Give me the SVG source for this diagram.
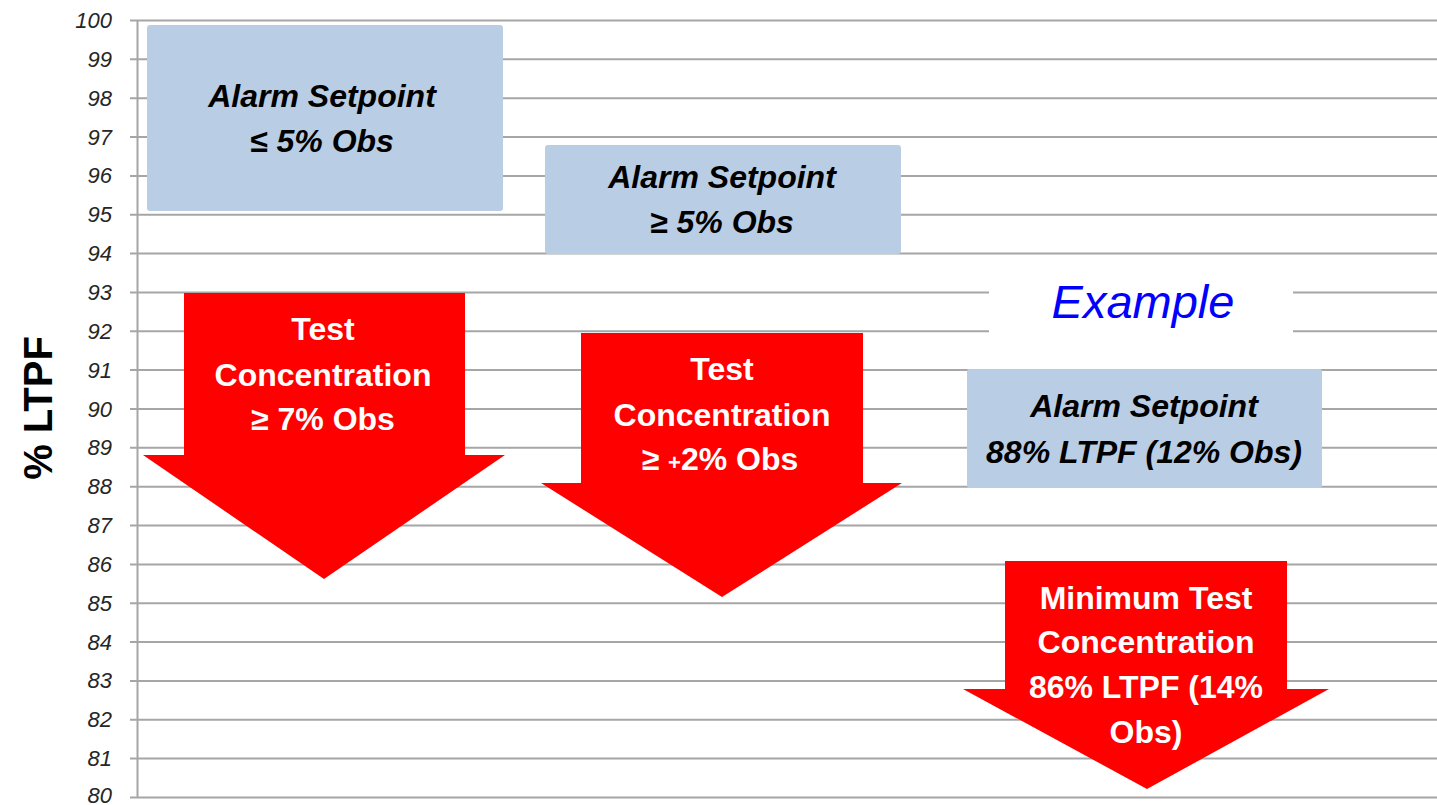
<svg xmlns="http://www.w3.org/2000/svg" width="1437" height="805" viewBox="0 0 1437 805">
<style>
.grid{stroke:#a6a6a6;stroke-width:2;fill:none}
.tick{font-family:"Liberation Sans",Arial,sans-serif;font-style:italic;font-size:22px;fill:#262626;text-anchor:end}
.box{fill:#b9cde5}
.arrow{fill:#ff0000}
.bt{font-family:"Liberation Sans",Arial,sans-serif;font-style:italic;font-weight:bold;font-size:32px;fill:#000;text-anchor:middle}
.wt{font-family:"Liberation Sans",Arial,sans-serif;font-weight:bold;font-size:32px;fill:#fff;text-anchor:middle}
</style>
<rect width="1437" height="805" fill="#fff"/>
<g id="axis">
<g class="grid">
<path d="M130 20.5H1437M130 59.3H1437M130 98.2H1437M130 137H1437M130 175.9H1437M130 214.7H1437M130 253.6H1437M130 292.4H1437M130 331.3H1437M130 370.1H1437M130 409H1437M130 447.8H1437M130 486.7H1437M130 525.5H1437M130 564.4H1437M130 603.2H1437M130 642.1H1437M130 680.9H1437M130 719.8H1437M130 758.6H1437M130 797.5H1437"/>
<path d="M137.5 20V797.5"/>
</g>
<g class="tick">
<text x="112" y="28">100</text>
<text x="112" y="66.8">99</text>
<text x="112" y="105.7">98</text>
<text x="112" y="144.5">97</text>
<text x="112" y="183.4">96</text>
<text x="112" y="222.2">95</text>
<text x="112" y="261.1">94</text>
<text x="112" y="299.9">93</text>
<text x="112" y="338.8">92</text>
<text x="112" y="377.6">91</text>
<text x="112" y="416.5">90</text>
<text x="112" y="455.3">89</text>
<text x="112" y="494.2">88</text>
<text x="112" y="533">87</text>
<text x="112" y="571.9">86</text>
<text x="112" y="610.7">85</text>
<text x="112" y="649.6">84</text>
<text x="112" y="688.4">83</text>
<text x="112" y="727.3">82</text>
<text x="112" y="766.1">81</text>
<text x="112" y="803">80</text>
</g>
<text transform="translate(52,408) rotate(-90)" text-anchor="middle" font-family="Liberation Sans,Arial,sans-serif" font-weight="bold" font-size="40" fill="#000">% LTPF</text>
</g>
<g id="alarm1">
<rect class="box" x="147" y="25" width="356" height="186" rx="3"/>
<text class="bt" x="322" y="107">Alarm Setpoint</text>
<text class="bt" x="322" y="152">≤ 5% Obs</text>
</g>
<g id="alarm2">
<rect class="box" x="545" y="145" width="356" height="109" rx="3"/>
<text class="bt" x="722" y="188">Alarm Setpoint</text>
<text class="bt" x="722" y="233">≥ 5% Obs</text>
</g>
<g id="example">
<rect x="989" y="278" width="304" height="70" fill="#fff"/>
<text x="1143" y="318" text-anchor="middle" font-family="Liberation Sans,Arial,sans-serif" font-style="italic" font-size="47" fill="#0000ff">Example</text>
</g>
<g id="alarm3">
<rect class="box" x="967" y="369" width="355" height="119" rx="2"/>
<text class="bt" x="1144" y="417">Alarm Setpoint</text>
<text class="bt" x="1144" y="463">88% LTPF (12% Obs)</text>
</g>
<g id="test1">
<polygon class="arrow" points="184,293 465,293 465,455 505,455 324,579 143,455 184,455"/>
<text class="wt" x="323" y="340">Test</text>
<text class="wt" x="323" y="386">Concentration</text>
<text class="wt" x="323" y="430">≥ 7% Obs</text>
</g>
<g id="test2">
<polygon class="arrow" points="581,333 863,333 863,483 902,483 722,597 541,483 581,483"/>
<text class="wt" x="722" y="380">Test</text>
<text class="wt" x="722" y="426">Concentration</text>
<text class="wt" x="720" y="470">≥ <tspan font-size="22">+</tspan>2% Obs</text>
</g>
<g id="test3">
<polygon class="arrow" points="1005,561 1287,561 1287,689 1329,689 1147,789 963,689 1005,689"/>
<text class="wt" x="1146" y="609">Minimum Test</text>
<text class="wt" x="1146" y="653">Concentration</text>
<text class="wt" x="1146" y="698">86% LTPF (14%</text>
<text class="wt" x="1146" y="743">Obs)</text>
</g>
</svg>
